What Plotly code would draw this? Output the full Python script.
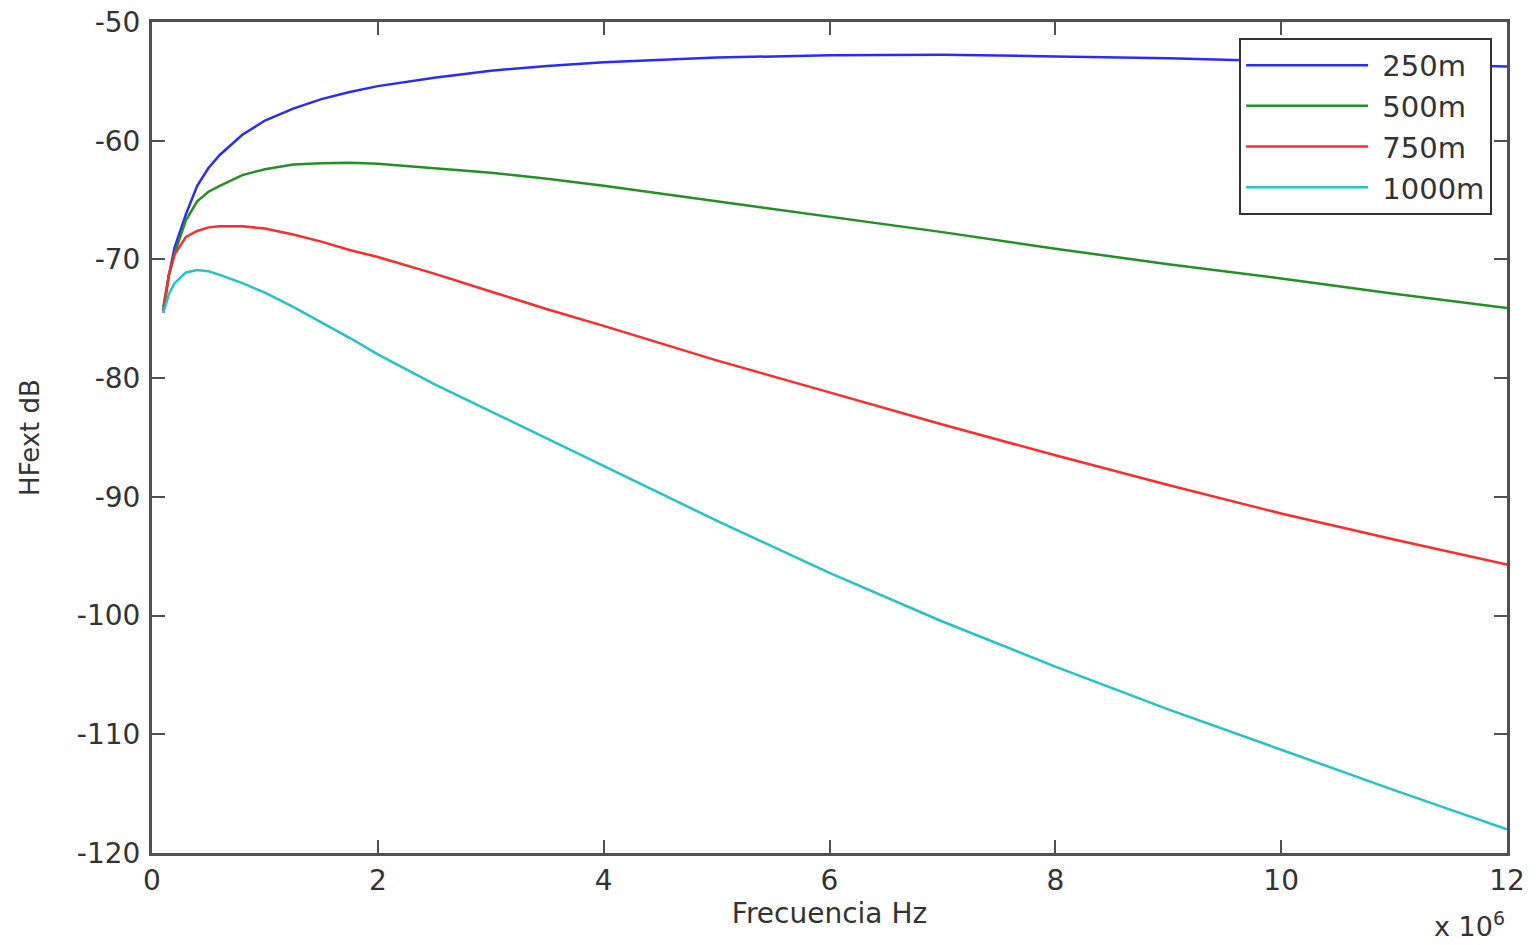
import plotly.graph_objects as go

# Frequency in units of 1e6 Hz
freq = [0.1, 0.15, 0.2, 0.3, 0.4, 0.5, 0.6, 0.8, 1.0, 1.25, 1.5, 1.75, 2.0, 2.5,
        3.0, 3.5, 4.0, 5.0, 6.0, 7.0, 8.0, 9.0, 10.0, 11.0, 12.0]

h_250 = [-74.3, -71.3, -69.0, -66.2, -63.8, -62.3, -61.2, -59.5, -58.3, -57.3, -56.5,
         -55.9, -55.4, -54.7, -54.1, -53.7, -53.4, -53.0, -52.8, -52.75, -52.9, -53.05,
         -53.3, -53.5, -53.75]
h_500 = [-74.0, -71.3, -69.5, -66.7, -65.1, -64.3, -63.8, -62.9, -62.4, -62.0, -61.9,
         -61.85, -61.95, -62.3, -62.7, -63.2, -63.8, -65.1, -66.4, -67.7, -69.1, -70.4,
         -71.6, -72.9, -74.1]
h_750 = [-74.5, -71.3, -69.6, -68.1, -67.6, -67.3, -67.2, -67.2, -67.4, -67.9, -68.5,
         -69.2, -69.8, -71.2, -72.7, -74.2, -75.6, -78.5, -81.2, -83.9, -86.5, -89.0,
         -91.4, -93.6, -95.7]
h_1000 = [-74.5, -72.9, -72.0, -71.1, -70.9, -71.0, -71.3, -72.0, -72.8, -74.0, -75.3,
          -76.6, -78.0, -80.5, -82.8, -85.1, -87.4, -92.0, -96.4, -100.5, -104.3, -107.9,
          -111.3, -114.7, -118.0]

names = ["250m", "500m", "750m", "1000m"]
series = [h_250, h_500, h_750, h_1000]
colors = ["#2a2aff", "#229022", "#ff2a2a", "#22c4c4"]

x_ticks = [0, 2, 4, 6, 8, 10, 12]
y_ticks = [-50, -60, -70, -80, -90, -100, -110, -120]

FONT = "DejaVu Sans"
AXC = "#505050"
TXT = "#333333"

fig = go.Figure()
for n, s, c in zip(names, series, colors):
    fig.add_trace(go.Scatter(x=freq, y=s, mode="lines", name="\u00a0" + n,
                             line=dict(color=c, width=2.5)))

fig.update_layout(
    width=1536, height=945,
    margin=dict(l=152, r=29, t=22, b=92, autoexpand=False),
    paper_bgcolor="white", plot_bgcolor="white",
    font=dict(family=FONT, color=TXT, size=28),
    showlegend=True,
    legend=dict(x=0.989, y=0.981, xanchor="right", yanchor="top",
                bgcolor="white", bordercolor="#333333", borderwidth=2,
                font=dict(family=FONT, size=29, color=TXT),
                itemwidth=122, entrywidth=131, tracegroupgap=0),
)
fig.update_xaxes(range=[0, 12], tickvals=x_ticks, ticktext=[str(v) for v in x_ticks],
                 ticks="inside", ticklen=13, tickwidth=2, tickcolor=AXC,
                 showline=True, linecolor=AXC, linewidth=3, mirror="ticks",
                 showgrid=False, zeroline=False, automargin=False,
                 tickfont=dict(family=FONT, size=28, color=TXT),
                 title=dict(text="Frecuencia Hz", standoff=8,
                            font=dict(family=FONT, size=28, color=TXT)))
fig.update_yaxes(range=[-120, -50], tickvals=y_ticks, ticktext=[str(v) for v in y_ticks],
                 ticks="inside", ticklen=13, tickwidth=2, tickcolor=AXC,
                 showline=True, linecolor=AXC, linewidth=3, mirror="ticks",
                 showgrid=False, zeroline=False, automargin=False,
                 ticklabelstandoff=3,
                 tickfont=dict(family=FONT, size=28, color=TXT),
                 title=dict(text="HFext dB", standoff=30,
                            font=dict(family=FONT, size=26, color=TXT)))
fig.add_annotation(xref="paper", yref="paper", x=1.0, y=-0.11, xanchor="right",
                   yanchor="bottom", showarrow=False, text="x 10<sup>6</sup>",
                   font=dict(family=FONT, size=27, color=TXT))

fig.write_html("out.html")
